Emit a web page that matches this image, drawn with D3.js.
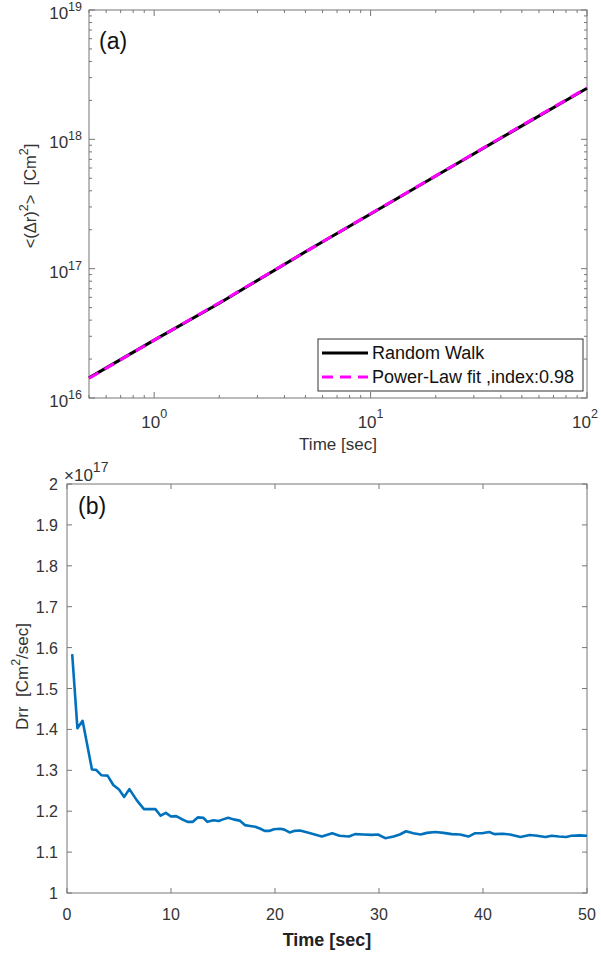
<!DOCTYPE html>
<html>
<head>
<meta charset="utf-8">
<script src="https://cdn.jsdelivr.net/npm/d3@7"></script>
<style>
  body { margin: 0; background: #fff; }
  text { font-family: "Liberation Sans", Arial, sans-serif; fill: #333; white-space: pre; }
</style>
</head>
<body>
<svg id="chart" width="601" height="956"></svg>
<script>
// ---- panel (a): mean squared displacement, log-log
const msdTime = [0.5, 1, 2, 5, 10, 20, 50, 100];
const msdWalk = [1.43e16, 2.8e16, 5.4e16, 1.35e17, 2.65e17, 5.2e17, 1.27e18, 2.48e18];
const msdFit = [1.42e16, 2.8e16, 5.45e16, 1.35e17, 2.66e17, 5.22e17, 1.28e18, 2.5e18];
const msdYTicks = [16, 17, 18, 19];
const msdXTicks = [0, 1, 2];
const legendLabels = ["Random Walk", "Power-Law fit ,index:0.98"];

// ---- panel (b): diffusion coefficient Drr (x 1e17)
const drrTime = [0.5, 1.0, 1.5, 2.4, 2.8, 3.3, 3.9, 4.45, 5.0, 5.5, 6.0, 6.7, 7.4, 8.5, 9.0, 9.5,
  10.0, 10.5, 11.0, 11.6, 12.1, 12.6, 13.1, 13.5, 14.1, 14.6, 15.0, 15.5, 16.0, 16.6, 17.1, 17.6,
  18.1, 18.6, 19.0, 19.5, 19.9, 20.5, 20.9, 21.4, 21.9, 22.4, 23.4, 24.5, 25.5, 26.2, 27.1, 27.7,
  28.5, 29.3, 29.9, 30.6, 31.4, 32.0, 32.6, 33.3, 34.0, 34.6, 35.4, 36.2, 37.0, 37.8, 38.6, 39.2,
  39.9, 40.6, 41.1, 41.9, 42.6, 43.6, 44.5, 45.2, 46.0, 46.6, 47.3, 48.0, 48.5, 49.3, 50.0];
const drrValue = [1.584, 1.403, 1.421, 1.302, 1.301, 1.288, 1.287, 1.264, 1.253, 1.235, 1.254, 1.227,
  1.205, 1.205, 1.189, 1.196, 1.187, 1.188, 1.181, 1.174, 1.174, 1.185, 1.184, 1.174, 1.178, 1.176,
  1.180, 1.184, 1.180, 1.177, 1.166, 1.164, 1.162, 1.157, 1.152, 1.152, 1.156, 1.157, 1.155, 1.148,
  1.152, 1.153, 1.146, 1.138, 1.146, 1.140, 1.138, 1.144, 1.143, 1.142, 1.143, 1.134, 1.138, 1.143,
  1.151, 1.146, 1.143, 1.147, 1.149, 1.147, 1.144, 1.143, 1.138, 1.146, 1.146, 1.149, 1.144, 1.145,
  1.143, 1.137, 1.142, 1.140, 1.137, 1.140, 1.138, 1.137, 1.140, 1.141, 1.140];
const drrYTicks = [1, 1.1, 1.2, 1.3, 1.4, 1.5, 1.6, 1.7, 1.8, 1.9, 2];
const drrXTicks = [0, 10, 20, 30, 40, 50];

const svg = d3.select("#chart");
const axisColor = "#777";

// ================= panel (a) =================
const a = {left: 89, right: 587, top: 10, bottom: 398};
const xa = d3.scaleLog().domain([0.5, 100]).range([a.left, a.right]);
const ya = d3.scaleLog().domain([1e16, 1e19]).range([a.bottom, a.top]);

const gA = svg.append("g");

// minor + major ticks (inward, all four sides)
const xaMinor = [];
for (let e = -1; e <= 1; e++) for (let m = 1; m <= 9; m++) {
  const v = m * Math.pow(10, e);
  if (v >= 0.5 && v <= 100) xaMinor.push(v);
}
xaMinor.push(100);
const yaMinor = [];
for (let e = 16; e <= 18; e++) for (let m = 1; m <= 9; m++) yaMinor.push(m * Math.pow(10, e));
yaMinor.push(1e19);

const isMajor = v => Math.abs(Math.log10(v) - Math.round(Math.log10(v))) < 1e-9;

xaMinor.forEach(v => {
  const len = isMajor(v) ? 6 : 3;
  gA.append("line").attr("x1", xa(v)).attr("x2", xa(v)).attr("y1", a.bottom).attr("y2", a.bottom - len)
    .attr("stroke", axisColor);
  gA.append("line").attr("x1", xa(v)).attr("x2", xa(v)).attr("y1", a.top).attr("y2", a.top + len)
    .attr("stroke", axisColor);
});
yaMinor.forEach(v => {
  const len = isMajor(v) ? 6 : 3;
  gA.append("line").attr("x1", a.left).attr("x2", a.left + len).attr("y1", ya(v)).attr("y2", ya(v))
    .attr("stroke", axisColor);
  gA.append("line").attr("x1", a.right).attr("x2", a.right - len).attr("y1", ya(v)).attr("y2", ya(v))
    .attr("stroke", axisColor);
});

gA.append("rect").attr("x", a.left).attr("y", a.top)
  .attr("width", a.right - a.left).attr("height", a.bottom - a.top)
  .attr("fill", "none").attr("stroke", axisColor);

// tick labels
msdYTicks.forEach(e => {
  const t = gA.append("text").attr("x", 82).attr("y", ya(Math.pow(10, e)) + 9)
    .attr("text-anchor", "end").style("font-size", "17px");
  t.append("tspan").text("10");
  t.append("tspan").attr("dy", -8).style("font-size", "12.5px").text(e);
});
msdXTicks.forEach(e => {
  const px = Math.min(xa(Math.pow(10, e)), 585);
  const t = gA.append("text").attr("x", px).attr("y", 428)
    .attr("text-anchor", "middle").style("font-size", "17px");
  t.append("tspan").text("10");
  t.append("tspan").attr("dy", -10).style("font-size", "12.5px").text(e);
});

// axis labels
gA.append("text").attr("x", (a.left + a.right) / 2).attr("y", 450)
  .attr("text-anchor", "middle").style("font-size", "17px").text("Time [sec]");
const yLabA = gA.append("text")
  .attr("transform", `translate(36,${(a.top + a.bottom) / 2 - 8}) rotate(-90)`)
  .attr("text-anchor", "middle").style("font-size", "16.5px");
yLabA.append("tspan").text("<(Δr)");
yLabA.append("tspan").attr("dy", -8).style("font-size", "12.5px").text("2");
yLabA.append("tspan").attr("dy", 8).text(">  [Cm");
yLabA.append("tspan").attr("dy", -8).style("font-size", "12.5px").text("2");
yLabA.append("tspan").attr("dy", 8).text("]");

// lines
const lineA = d3.line().x((d, i) => xa(msdTime[i])).y(d => ya(d));
gA.append("path").datum(msdWalk).attr("d", lineA)
  .attr("fill", "none").attr("stroke", "#000").attr("stroke-width", 3);
gA.append("path").datum(msdFit).attr("d", lineA)
  .attr("fill", "none").attr("stroke", "#ff00ff").attr("stroke-width", 3)
  .attr("stroke-dasharray", "11,7");

gA.append("text").attr("x", 99).attr("y", 49).style("font-size", "23px").style("fill", "#111").text("(a)");

// legend
const leg = gA.append("g");
leg.append("rect").attr("x", 318).attr("y", 339).attr("width", 265).attr("height", 52)
  .attr("fill", "#fff").attr("stroke", "#333").attr("stroke-width", 1);
leg.append("line").attr("x1", 322).attr("x2", 368).attr("y1", 353).attr("y2", 353)
  .attr("stroke", "#000").attr("stroke-width", 3);
leg.append("line").attr("x1", 322).attr("x2", 368).attr("y1", 377).attr("y2", 377)
  .attr("stroke", "#ff00ff").attr("stroke-width", 3).attr("stroke-dasharray", "11,7");
legendLabels.forEach((l, i) => {
  leg.append("text").attr("x", 372).attr("y", 359 + i * 24).style("font-size", "18px")
    .style("fill", "#111").text(l);
});

// ================= panel (b) =================
const b = {left: 67, right: 587, top: 484, bottom: 893};
const xb = d3.scaleLinear().domain([0, 50]).range([b.left, b.right]);
const yb = d3.scaleLinear().domain([1, 2]).range([b.bottom, b.top]);

const gB = svg.append("g");
drrXTicks.forEach(v => {
  gB.append("line").attr("x1", xb(v)).attr("x2", xb(v)).attr("y1", b.bottom).attr("y2", b.bottom - 5)
    .attr("stroke", axisColor);
  gB.append("line").attr("x1", xb(v)).attr("x2", xb(v)).attr("y1", b.top).attr("y2", b.top + 5)
    .attr("stroke", axisColor);
  gB.append("text").attr("x", xb(v)).attr("y", 920).attr("text-anchor", "middle")
    .style("font-size", "16px").text(v);
});
drrYTicks.forEach(v => {
  gB.append("line").attr("x1", b.left).attr("x2", b.left + 5).attr("y1", yb(v)).attr("y2", yb(v))
    .attr("stroke", axisColor);
  gB.append("line").attr("x1", b.right).attr("x2", b.right - 5).attr("y1", yb(v)).attr("y2", yb(v))
    .attr("stroke", axisColor);
  gB.append("text").attr("x", 58).attr("y", yb(v) + 6).attr("text-anchor", "end")
    .style("font-size", "16px").text(d3.format("~g")(v));
});
gB.append("rect").attr("x", b.left).attr("y", b.top)
  .attr("width", b.right - b.left).attr("height", b.bottom - b.top)
  .attr("fill", "none").attr("stroke", axisColor);

const expB = gB.append("text").attr("x", 64).attr("y", 481).style("font-size", "17px");
expB.append("tspan").text("×10");
expB.append("tspan").attr("dy", -9).style("font-size", "14px").text("17");

gB.append("text").attr("x", (b.left + b.right) / 2).attr("y", 946)
  .attr("text-anchor", "middle").style("font-size", "18px").style("font-weight", "bold")
  .style("fill", "#222").text("Time [sec]");

const yLabB = gB.append("text")
  .attr("transform", `translate(28,${(b.top + b.bottom) / 2 - 12}) rotate(-90)`)
  .attr("text-anchor", "middle").style("font-size", "17px");
yLabB.append("tspan").text("Drr  [Cm");
yLabB.append("tspan").attr("dy", -8).style("font-size", "12.5px").text("2");
yLabB.append("tspan").attr("dy", 8).text("/sec]");

const lineB = d3.line().x((d, i) => xb(drrTime[i])).y(d => yb(d));
gB.append("path").datum(drrValue).attr("d", lineB)
  .attr("fill", "none").attr("stroke", "#0072BD").attr("stroke-width", 2.6)
  .attr("stroke-linejoin", "round");

gB.append("text").attr("x", 78).attr("y", 514).style("font-size", "23px").style("fill", "#111").text("(b)");
</script>
</body>
</html>
